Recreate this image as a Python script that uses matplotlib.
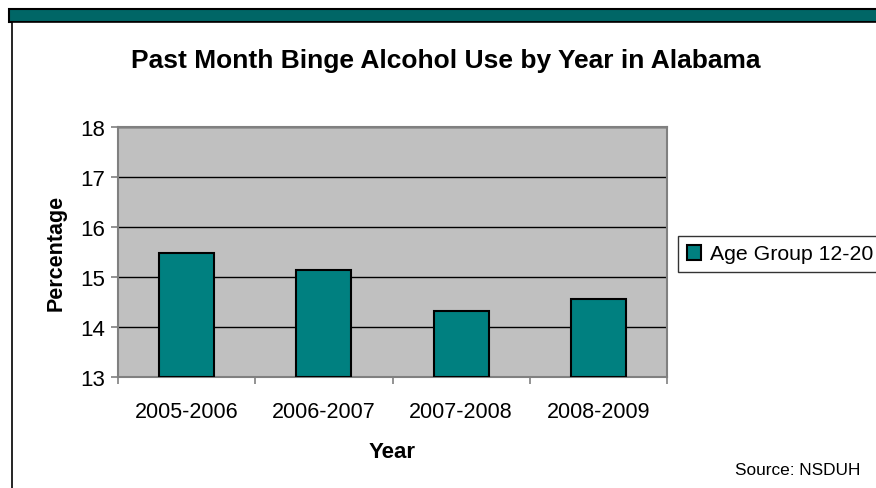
import matplotlib.pyplot as plt
from matplotlib.patches import Rectangle
import numpy as np

years = ['2005-2006', '2006-2007', '2007-2008', '2008-2009']
binge_12_20 = [15.47, 15.15, 14.33, 14.56]
yticks = [13, 14, 15, 16, 17, 18]

W, H = 876, 489
fig = plt.figure(figsize=(W / 100, H / 100), dpi=100)
plt.rcParams['font.family'] = ['Liberation Sans', 'DejaVu Sans']

# 顶部色带和白色图框
fig.patches.append(Rectangle((9 / W, 1 - 23 / H), 870 / W, 13 / H, transform=fig.transFigure,
                             facecolor='#006666', edgecolor='black', linewidth=1.5, zorder=-10))
fig.patches.append(Rectangle((12 / W, -0.01), 0.99, 1 - 23 / H + 0.01, transform=fig.transFigure,
                             facecolor='white', edgecolor='black', linewidth=1.2, zorder=-10))

# 绘图区
ax = fig.add_axes([118 / W, 1 - 378 / H, 549 / W, 250 / H])
ax.set_zorder(5)
ax.set_facecolor('#C0C0C0')
x = np.arange(len(years))
ax.bar(x, np.array(binge_12_20) - 13, bottom=13, width=0.4, color='#008080',
       edgecolor='black', linewidth=1.5, label='Age Group 12-20', zorder=3)
ax.set_xlim(-0.5, len(years) - 0.5)
ax.set_ylim(13, 18)
ax.set_yticks(yticks)
ax.grid(axis='y', color='black', linewidth=1, zorder=1)
ax.set_xticks(x)
ax.set_xticklabels(years, fontsize=15.5)
ax.set_xticks(np.arange(len(years) + 1) - 0.5, minor=True)
ax.tick_params(axis='x', which='major', length=0, pad=17)
ax.tick_params(axis='x', which='minor', length=5, color='#808080', width=1.2)
ax.tick_params(axis='y', labelsize=16, length=5, color='#808080', width=1.2, pad=4)
for s in ['top', 'right', 'left', 'bottom']:
    ax.spines[s].set_color('#808080')
    ax.spines[s].set_linewidth(1.5)

ax.set_ylabel('Percentage', fontsize=15.5, fontweight='bold', labelpad=10)
ax.set_xlabel('Year', fontsize=16, fontweight='bold', labelpad=14)

fig.text(446 / W, 1 - 61 / H, 'Past Month Binge Alcohol Use by Year in Alabama',
         ha='center', va='center', fontsize=19, fontweight='bold')
fig.text(860 / W, 1 - 471 / H, 'Source: NSDUH', ha='right', va='center', fontsize=12.4)

leg = ax.legend(loc='upper left', bbox_to_anchor=(678 / W, 1 - 237 / H),
                bbox_transform=fig.transFigure, fontsize=15.3, frameon=True,
                fancybox=False, handlelength=0.7, handleheight=0.7,
                handletextpad=0.4, borderpad=0.4, borderaxespad=0)
leg.get_frame().set_edgecolor('black')
leg.get_frame().set_linewidth(1)

fig.savefig('out.png', dpi=100)
